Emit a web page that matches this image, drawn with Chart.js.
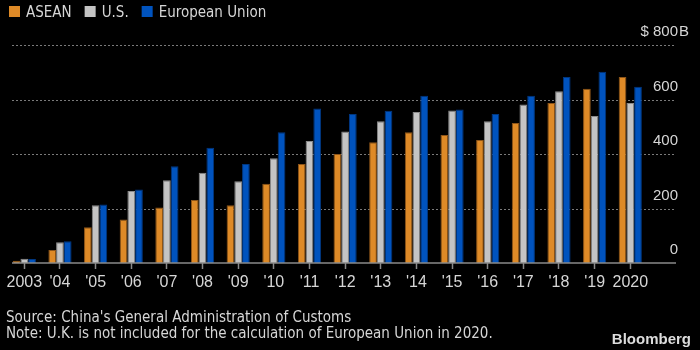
<!DOCTYPE html>
<html>
<head>
<meta charset="utf-8">
<script src="https://cdn.jsdelivr.net/npm/chart.js@4"></script>
<style>
  html, body { margin: 0; padding: 0; background: #000; }
  #wrap { width: 700px; height: 350px; position: relative; }
</style>
</head>
<body>
<div id="wrap"><canvas id="c" width="700" height="350"></canvas></div>
<script>
const categories = ['2003', "'04", "'05", "'06", "'07", "'08", "'09", "'10", "'11", "'12", "'13", "'14", "'15", "'16", "'17", "'18", "'19", '2020'];
const seriesNames = ['ASEAN', 'U.S.', 'European Union'];
const asean = [8, 48, 131, 160, 204, 231, 212, 291, 363, 400, 443, 480, 470, 451, 514, 587, 639, 683];
const us = [16, 76, 212, 264, 304, 331, 300, 384, 448, 483, 520, 554, 560, 520, 582, 630, 539, 587];
const eu = [15, 80, 215, 270, 355, 423, 363, 480, 567, 547, 559, 614, 563, 547, 614, 683, 702, 647];
const yTicks = [0, 200, 400, 600, 800];
const yPrefix = '$ ';
const ySuffix = 'B';
const sourceText = "Source: China's General Administration of Customs";
const noteText = 'Note: U.K. is not included for the calculation of European Union in 2020.';
const brandText = 'Bloomberg';

const colors = ['#DE8A27', '#C4C4C4', '#0053BE'];
const borders = ['#8E5518', '#8A8A8A', '#003780'];
const textColor = '#D6D6D6';
const narrow = '"DejaVu Sans Condensed", "Liberation Sans Narrow", "Liberation Sans", sans-serif';
const sans = '"Liberation Sans", Arial, sans-serif';

const overlay = {
  id: 'overlay',
  beforeDatasetsDraw(chart) {
    const ctx = chart.ctx;
    const y = chart.scales.y;
    ctx.save();
    ctx.strokeStyle = '#7a7a7a';
    ctx.lineWidth = 1;
    ctx.setLineDash([2, 2]);
    yTicks.forEach(v => {
      if (v === 0) return;
      const py = Math.round(y.getPixelForValue(v)) + 0.5;
      ctx.beginPath();
      ctx.moveTo(12, py);
      ctx.lineTo(676, py);
      ctx.stroke();
    });
    ctx.restore();
  },
  afterDraw(chart) {
    const ctx = chart.ctx;
    const y = chart.scales.y;
    ctx.save();
    // baseline
    const by = y.getPixelForValue(0);
    ctx.strokeStyle = '#8a8a8a';
    ctx.lineWidth = 1.5;
    ctx.beginPath();
    ctx.moveTo(12, by);
    ctx.lineTo(676, by);
    ctx.stroke();

    // y labels
    ctx.fillStyle = textColor;
    ctx.font = '15px ' + sans;
    ctx.textBaseline = 'alphabetic';
    yTicks.forEach((v, i) => {
      const py = y.getPixelForValue(v) - 9;
      ctx.textAlign = 'right';
      ctx.fillText(String(v), 678, py);
      if (i === yTicks.length - 1) {
        const w = ctx.measureText(String(v)).width;
        ctx.fillText(yPrefix, 678 - w, py);
        ctx.textAlign = 'left';
        ctx.fillText(ySuffix, 679, py);
      }
    });

    // legend
    ctx.font = '15px ' + narrow;
    ctx.textAlign = 'left';
    let lx = 9;
    chart.data.datasets.forEach((ds, i) => {
      ctx.fillStyle = ds.backgroundColor;
      ctx.fillRect(lx, 6, 11, 11);
      ctx.fillStyle = textColor;
      ctx.fillText(ds.label, lx + 17, 17);
      lx += 17 + ctx.measureText(ds.label).width + 13;
    });

    // footnotes
    ctx.font = '15px ' + narrow;
    ctx.fillStyle = textColor;
    ctx.fillText(sourceText, 6, 322);
    ctx.fillText(noteText, 6, 338);

    // brand
    ctx.font = 'bold 15px ' + sans;
    ctx.fillStyle = '#DCDCDC';
    ctx.textAlign = 'right';
    ctx.fillText(brandText, 691, 344);
    ctx.restore();
  }
};

new Chart(document.getElementById('c'), {
  type: 'bar',
  data: {
    labels: categories,
    datasets: [
      { label: seriesNames[0], data: asean, backgroundColor: colors[0], borderColor: borders[0], borderWidth: 1 },
      { label: seriesNames[1], data: us, backgroundColor: colors[1], borderColor: borders[1], borderWidth: 1 },
      { label: seriesNames[2], data: eu, backgroundColor: colors[2], borderColor: borders[2], borderWidth: 1 }
    ]
  },
  options: {
    responsive: false,
    animation: false,
    devicePixelRatio: 1,
    datasets: { bar: { categoryPercentage: 0.65, barPercentage: 1.0 } },
    layout: { padding: { top: 45, left: 6.5, right: 0, bottom: 57 } },
    plugins: { legend: { display: false }, title: { display: false }, tooltip: { enabled: false } },
    scales: {
      x: {
        offset: true,
        grid: { display: true, drawOnChartArea: false, drawTicks: true, tickLength: 6, offset: false, color: '#8a8a8a', tickColor: '#8a8a8a', tickWidth: 1.5 },
        border: { display: false },
        ticks: { color: textColor, font: { family: sans, size: 16 }, padding: 4, maxRotation: 0, autoSkip: false },
        afterFit(s) { s.height = 30; }
      },
      y: {
        position: 'right',
        min: 0,
        max: 800,
        afterBuildTicks(s) { s.ticks = yTicks.map(v => ({ value: v })); },
        ticks: { display: false },
        grid: { display: false },
        border: { display: false },
        afterFit(s) { s.width = 51.9; }
      }
    }
  },
  plugins: [overlay]
});
</script>
</body>
</html>
